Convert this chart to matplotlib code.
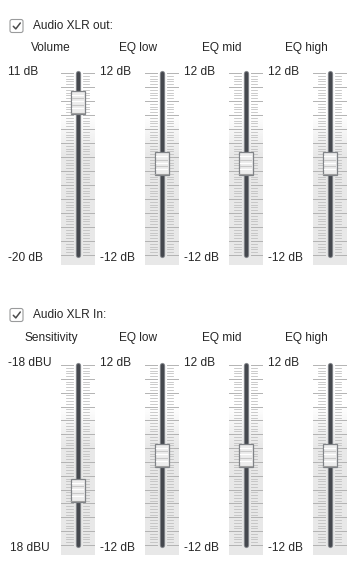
import numpy as np
import matplotlib
matplotlib.use("Agg")
import matplotlib.pyplot as plt
from matplotlib.patches import Rectangle, FancyBboxPatch

# ---- data ----
section_titles = ["Audio XLR out:", "Audio XLR In:"]
out_names = ["Volume", "EQ low", "EQ mid", "EQ high"]
out_top = [11, 12, 12, 12]
out_bottom = [-20, -12, -12, -12]
out_top_labels = ["11 dB", "12 dB", "12 dB", "12 dB"]
out_bottom_labels = ["-20 dB", "-12 dB", "-12 dB", "-12 dB"]
out_values = [6, 0, 0, 0]

in_names = ["Sensitivity", "EQ low", "EQ mid", "EQ high"]
in_top = [-18, 12, 12, 12]
in_bottom = [18, -12, -12, -12]
in_top_labels = ["-18 dBU", "12 dB", "12 dB", "12 dB"]
in_bottom_labels = ["18 dBU", "-12 dB", "-12 dB", "-12 dB"]
in_values = [7, 0, 0, 0]

W, H = 349, 563
FONT = dict(family="Liberation Sans", fontsize=8.6, color="#262626")

fig = plt.figure(figsize=(W / 100, H / 100), dpi=100)
fig.patch.set_facecolor("white")
ax = fig.add_axes([0, 0, 1, 1])
ax.set_xlim(0, W)
ax.set_ylim(H, 0)
ax.axis("off")


def px_rect(x0, y0, x1, y1):
    return [x0 / W, 1 - y1 / H, (x1 - x0) / W, (y1 - y0) / H]


track_x = [77.5, 161.5, 245.5, 329.5]
name_x = [51, 138, 222, 306]
label_x = [8, 100, 184, 268]

# gradient for slider background
N = 200
g = np.linspace(0, 1, N)
shade = np.clip((g - 0.25) / 0.2, 0, 1)
base = np.array([0.91, 0.91, 0.91])
grad = (1 - shade)[:, None, None] * np.ones((1, 1, 3)) + shade[:, None, None] * base[None, None, :]


def draw_checkbox(ycenter):
    box = FancyBboxPatch((10, ycenter - 6.5), 13, 13,
                         boxstyle="round,pad=0,rounding_size=2",
                         facecolor="white", edgecolor="#9a9b9c", lw=0.8)
    ax.add_patch(box)
    ax.plot([13.3, 15.8, 20.3], [ycenter + 0.3, ycenter + 2.9, ycenter - 3.0],
            color="#4a4a4a", lw=1.1, solid_capstyle="round", solid_joinstyle="round")


def draw_slider(tx, ytop, ybot, top, bottom, value):
    L = ybot - ytop
    span = bottom - top
    lo = top + (1 + 10.0 / L) * span
    hi = top + (-8.0 / L) * span
    sax = fig.add_axes(px_rect(tx - 17, ytop - 8, tx + 17, ybot + 10))
    sax.set_xlim(-17, 17)
    sax.set_ylim(lo, hi)
    sax.axis("off")
    sax.imshow(grad, extent=[-17, 17, lo, hi], origin="upper", aspect="auto",
               interpolation="bilinear", zorder=0)
    n_major = 13
    n_minor = 5
    ticks = np.linspace(top, bottom, n_major * n_minor + 1)
    for k, t in enumerate(ticks):
        if k % n_minor == 0:
            sax.plot([-17, -5], [t, t], color="#b3b3b3", lw=0.7, zorder=1)
            sax.plot([5, 17], [t, t], color="#b3b3b3", lw=0.7, zorder=1)
        else:
            sax.plot([-11.5, -5], [t, t], color="#bdbdbd", lw=0.55, zorder=1)
            sax.plot([5, 11.5], [t, t], color="#bdbdbd", lw=0.55, zorder=1)
    # track
    sax.plot([0, 0], [top, bottom], color="#8a8d92", lw=3.8,
             solid_capstyle="round", zorder=2)
    sax.plot([0, 0], [top, bottom], color="#45484e", lw=2.4,
             solid_capstyle="round", zorder=3)
    # thumb
    th = 23.0 / L * abs(span)
    sgn = 1 if span > 0 else -1
    unit = abs(span) / L
    sax.add_patch(Rectangle((-7, value - th / 2), 14, th,
                            facecolor="#ededed", edgecolor="#808387", lw=0.9, zorder=4))
    for off, c in [(-7.5, "#ffffff"), (-4, "#c8c8c8"), (-1, "#ffffff"),
                   (2.5, "#c8c8c8"), (5.5, "#ffffff")]:
        yy = value + sgn * off * unit
        sax.plot([-5.5, 5.5], [yy, yy], color=c, lw=0.8, zorder=5)
    yb = value + sgn * (th / 2 - 1.0 * unit)
    sax.plot([-6.5, 6.5], [yb, yb], color="#a0a0a0", lw=0.8, zorder=5)


sections = [
    dict(title=section_titles[0], check_y=26, name_y=48, label_y=72,
         ytop=73, ybot=255, bot_label_y=258,
         names=out_names, top=out_top, bottom=out_bottom,
         tl=out_top_labels, bl=out_bottom_labels, vals=out_values),
    dict(title=section_titles[1], check_y=315, name_y=338, label_y=363,
         ytop=365, ybot=545, bot_label_y=548,
         names=in_names, top=in_top, bottom=in_bottom,
         tl=in_top_labels, bl=in_bottom_labels, vals=in_values),
]

for si, s in enumerate(sections):
    draw_checkbox(s["check_y"])
    ax.text(33, s["check_y"], s["title"], ha="left", va="center", **FONT)
    for i in range(4):
        ax.text(name_x[i], s["name_y"], s["names"][i], ha="center", va="center", **FONT)
        ax.text(label_x[i], s["label_y"], s["tl"][i], ha="left", va="center", **FONT)
        bx = label_x[i] + (2 if (i == 0 and si == 1) else 0)
        ax.text(bx, s["bot_label_y"], s["bl"][i], ha="left", va="center", **FONT)
        draw_slider(track_x[i], s["ytop"], s["ybot"], s["top"][i], s["bottom"][i], s["vals"][i])

fig.savefig("out.png", dpi=100, facecolor="white")
